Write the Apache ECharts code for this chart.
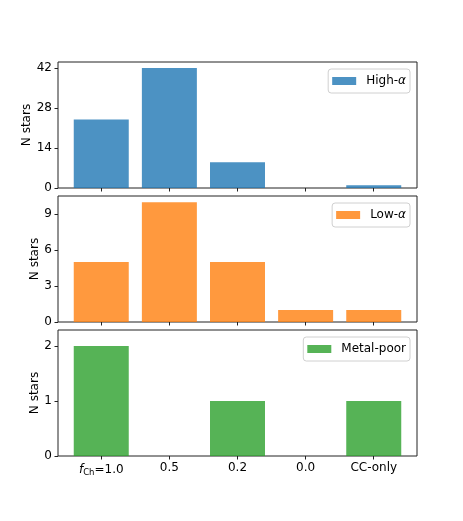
<!DOCTYPE html>
<html>
<head>
<meta charset="utf-8">
<script src="https://cdn.jsdelivr.net/npm/echarts@6/dist/echarts.min.js"></script>
<style>
  html, body { margin: 0; padding: 0; background: #fff; }
  #chart { width: 463px; height: 521px; }
</style>
</head>
<body>
<div id="chart"></div>
<script>
// categories along x (first one gets a rich label with f_Ch)
var categories = ['fCh=1.0', '0.5', '0.2', '0.0', 'CC-only']
// star counts per population
var highAlpha = [24, 42, 9, 0, 1]
var lowAlpha = [5, 10, 5, 1, 1]
var metalPoor = [2, 0, 1, 0, 1]
// y tick values per panel
var highTicks = [0, 14, 28, 42]
var lowTicks = [0, 3, 6, 9]
var poorTicks = [0, 1, 2]

var FONT = 'DejaVu Sans'
var panels = [
  { name: 'High-\u03b1', data: highAlpha, ticks: highTicks, max: 44.1, color: 'rgba(31,119,180,0.8)', top: 62, height: 126, gap: 25 },
  { name: 'Low-\u03b1', data: lowAlpha, ticks: lowTicks, max: 10.52, color: 'rgba(255,127,14,0.8)', top: 196, height: 126, gap: 17 },
  { name: 'Metal-poor', data: metalPoor, ticks: poorTicks, max: 2.29, color: 'rgba(44,160,44,0.8)', top: 330, height: 126, gap: 17 },
]
var xIdx = categories.map(function (c, i) { return i })

var grid = [], xAxis = [], yAxis = [], series = [], legend = []
panels.forEach(function (p, k) {
  var last = k === panels.length - 1
  grid.push({
    left: 58, right: 46, top: p.top, height: p.height,
    show: true, borderColor: '#222', borderWidth: 1, backgroundColor: 'transparent',
  })
  xAxis.push({
    type: 'value', gridIndex: k, min: -0.635, max: 4.635,
    axisLine: { show: false, onZero: false },
    splitLine: { show: false },
    axisTick: { show: true, customValues: xIdx, length: 3.5, lineStyle: { color: '#222' } },
    axisLabel: {
      show: last, customValues: xIdx, margin: 6, color: '#000', fontFamily: FONT, fontSize: 12,
      formatter: function (v) {
        if (v === 0) return '{i|f}{s|Ch}{n|=1.0}'
        return categories[v]
      },
      rich: {
        i: { fontStyle: 'italic', fontFamily: FONT, fontSize: 12, color: '#000' },
        s: { fontFamily: FONT, fontSize: 8.5, color: '#000', padding: [6, 0, 0, 0], verticalAlign: 'bottom' },
        n: { fontFamily: FONT, fontSize: 12, color: '#000' },
      },
    },
  })
  yAxis.push({
    type: 'value', gridIndex: k, min: 0, max: p.max,
    name: 'N stars', nameLocation: 'middle', nameGap: p.gap, nameMoveOverlap: false,
    nameTextStyle: { fontFamily: FONT, fontSize: 12, color: '#000' },
    axisLine: { show: false, onZero: false },
    splitLine: { show: false },
    axisTick: { show: true, customValues: p.ticks, length: 3.5, lineStyle: { color: '#222' } },
    axisLabel: { customValues: p.ticks, margin: 6, color: '#000', fontFamily: FONT, fontSize: 12 },
  })
  series.push({
    name: p.name, type: 'bar', xAxisIndex: k, yAxisIndex: k,
    barWidth: 55,
    itemStyle: { color: p.color },
    data: p.data.map(function (v, i) { return [xIdx[i], v] }),
    animation: false,
  })
  legend.push({
    data: [p.name], right: 53, top: p.top + 7,
    orient: 'vertical',
    itemWidth: 24, itemHeight: 8,
    icon: 'rect',
    backgroundColor: 'rgba(255,255,255,0.8)',
    borderColor: '#d0d0d0', borderWidth: 1, borderRadius: 3,
    padding: [6, 4, 6, 4],
    formatter: function (name) {
      var m = name.indexOf('\u03b1')
      if (m < 0) return name
      return '{r|' + name.slice(0, m) + '}{a|\u03b1}'
    },
    textStyle: {
      fontFamily: FONT, fontSize: 12, color: '#000', padding: [0, 0, 0, 5],
      rich: {
        r: { fontFamily: FONT, fontSize: 12, color: '#000' },
        a: { fontFamily: FONT, fontSize: 12, color: '#000', fontStyle: 'italic' },
      },
    },
    selectedMode: false,
  })
})

var chart = echarts.init(document.getElementById('chart'))
chart.setOption({
  backgroundColor: '#fff',
  animation: false,
  grid: grid,
  xAxis: xAxis,
  yAxis: yAxis,
  legend: legend,
  series: series,
})
</script>
</body>
</html>
